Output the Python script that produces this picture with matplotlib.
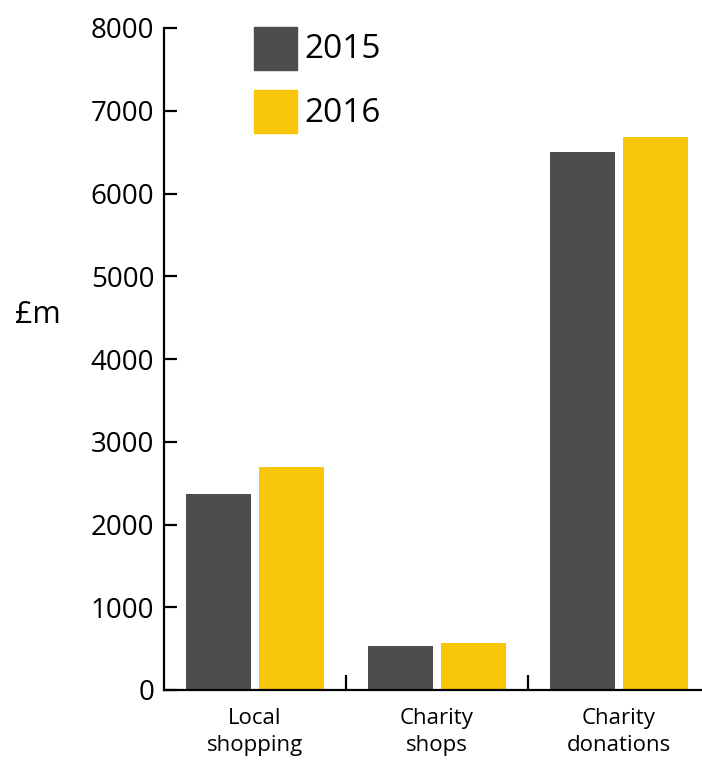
import matplotlib
matplotlib.use("Agg")
import matplotlib.pyplot as plt
import numpy as np

categories = ["Local\nshopping", "Charity\nshops", "Charity\ndonations"]
values_2015 = [2370, 535, 6500]
values_2016 = [2700, 568, 6680]
years = ["2015", "2016"]
colours = ["#4d4d4d", "#f7c608"]

plt.rcParams['font.family'] = ['Open Sans', 'DejaVu Sans']

fig = plt.figure(figsize=(7.02, 7.60), dpi=100)
# axis spans past the right edge, like the original
ax = fig.add_axes([164 / 702, 70 / 760, (710 - 164) / 702, (690 - 28) / 760])

x = np.arange(len(categories))
width = 0.36
ax.bar(x - 0.2, values_2015, width=width, color=colours[0], label=years[0])
ax.bar(x + 0.2, values_2016, width=width, color=colours[1], label=years[1])

ax.set_xlim(-0.5, 2.5)
ax.set_ylim(0, 8000)

for s in ['top', 'right']:
    ax.spines[s].set_visible(False)
for s in ['left', 'bottom']:
    ax.spines[s].set_linewidth(1.6)
    ax.spines[s].set_color('black')

ax.set_yticks(np.arange(0, 8001, 1000))
ax.tick_params(axis='y', direction='in', length=9, width=1.6, labelsize=20, pad=7)

# category labels as minor ticks, boundary ticks as majors
ax.set_xticks([0.5, 1.5])
ax.set_xticklabels([])
ax.tick_params(axis='x', which='major', direction='in', length=11, width=1.6)
ax.set_xticks(x, minor=True)
ax.set_xticklabels(categories, minor=True, fontsize=16, linespacing=1.35)
ax.tick_params(axis='x', which='minor', length=0, pad=13)

fig.text(15 / 702, 1 - 315 / 760, "£m", fontsize=22, va='center', ha='left')

# legend drawn by hand
for i, (yr, c) in enumerate(zip(years, colours)):
    top = 27 + i * 63
    fig.patches.append(plt.Rectangle((254 / 702, 1 - (top + 43) / 760), 43 / 702, 43 / 760,
                                     transform=fig.transFigure, color=c))
    fig.text(304 / 702, 1 - (top + 23) / 760, yr, fontsize=24, va='center', ha='left')

fig.savefig("out.png", dpi=100)
